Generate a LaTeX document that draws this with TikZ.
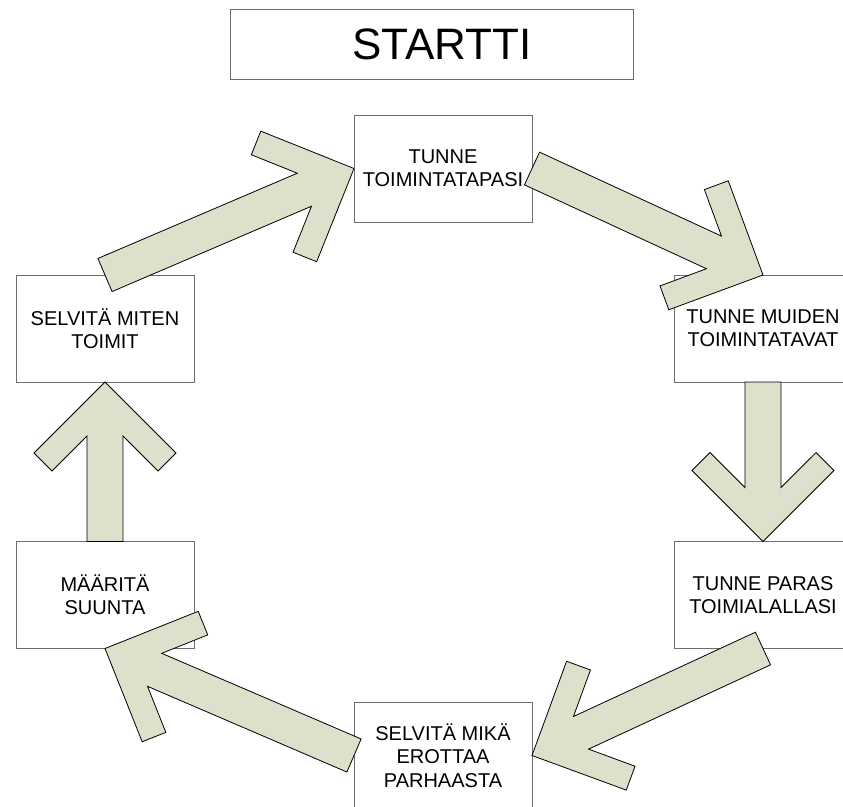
\documentclass[tikz,border=0pt]{standalone}
\usepackage{fontspec}
\setmainfont{Liberation Sans}
\usetikzlibrary{calc}

\definecolor{arrowfill}{RGB}{221,224,203}
\definecolor{boxline}{RGB}{110,110,110}

% Fat arrow from #1 (tail) to #2 (tip)
\newcommand{\bigarrow}[2]{%
  \draw[flow] ($(#1)!18pt!90:(#2)$) -- ($(#2)!56.9pt!-18.4:(#1)$)
    -- ($(#2)!103.6pt!-30.8:(#1)$) -- ($(#2)!100.4pt!-45:(#1)$)
    -- (#2) -- ($(#2)!100.4pt!45:(#1)$) -- ($(#2)!103.6pt!30.8:(#1)$)
    -- ($(#2)!56.9pt!18.4:(#1)$) -- ($(#1)!18pt!-90:(#2)$) -- cycle;}

\tikzset{
  phase/.style={draw=boxline, line width=1pt, fill=white, minimum width=178pt,
    minimum height=107pt, inner sep=0pt, outer sep=0pt, align=center,
    font=\fontsize{20}{23.3}\selectfont},
  titlebox/.style={draw=boxline, line width=1pt, minimum width=403pt,
    minimum height=70pt, inner sep=0pt, outer sep=0pt,
    font=\fontsize{44}{50}\selectfont},
  flow/.style={draw=black, line width=0.8pt, fill=arrowfill, line join=miter}
}

\begin{document}
\begin{tikzpicture}[x=1pt, y=-1pt]
\useasboundingbox (0,0) rectangle (843,806);
\clip (0,0) rectangle (843,806);

% Title
\node[titlebox] (startti) at (431.5,44) {\hspace*{21pt}STARTTI};

% Draw the boxes round the circle
\node[phase] (toiminta) at (443,168.5) {TUNNE\\TOIMINTATAPASI};
\node[phase] (muiden) at (763,328.5) {TUNNE MUIDEN\\TOIMINTATAVAT};
\node[phase] (paras) at (763,595) {TUNNE PARAS\\TOIMIALALLASI};
\node[phase] (erottaa) at (443,755.5) {SELVITÄ MIKÄ\\EROTTAA\\PARHAASTA};
\node[phase] (suunta) at (105,595) {MÄÄRITÄ\\SUUNTA};
\node[phase] (miten) at (105,328.5) {SELVITÄ MITEN\\TOIMIT};

% Arrows between the boxes
\bigarrow{miten.north}{toiminta.west}
\bigarrow{toiminta.east}{muiden.north}
\bigarrow{muiden.south}{paras.north}
\bigarrow{paras.south}{erottaa.east}
\bigarrow{erottaa.west}{suunta.south}
\bigarrow{suunta.north}{miten.south}
\end{tikzpicture}
\end{document}
